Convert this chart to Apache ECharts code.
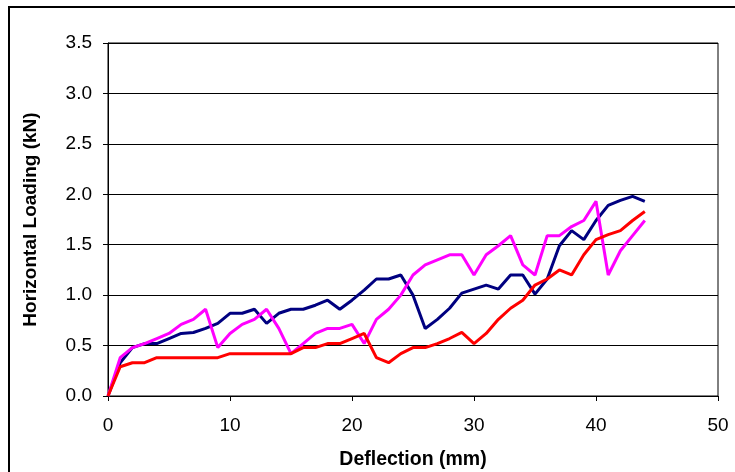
<!DOCTYPE html>
<html>
<head>
<meta charset="utf-8">
<script src="https://cdn.jsdelivr.net/npm/echarts@6/dist/echarts.min.js"></script>
<style>
  html, body { margin: 0; padding: 0; background: #fff; }
  #chart { width: 735px; height: 472px; }
</style>
</head>
<body>
<div id="chart"></div>
<script>
// Deflection readings (mm), one per loading step
const deflection = [0,1,2,3,4,5,6,7,8,9,10,11,12,13,14,15,16,17,18,19,20,21,22,23,24,25,26,27,28,29,30,31,32,33,34,35,36,37,38,39,40,41,42,43,44];

// Horizontal loading (kN) for each test specimen
const loadNavy = [0,0.33,0.48,0.52,0.52,0.57,0.62,0.63,0.67,0.72,0.82,0.82,0.86,0.72,0.82,0.86,0.86,0.90,0.95,0.86,0.95,1.05,1.16,1.16,1.20,1.00,0.67,0.76,0.87,1.02,1.06,1.10,1.06,1.20,1.20,1.01,1.16,1.49,1.64,1.55,1.74,1.89,1.94,1.98,1.93];
const loadMagenta = [0,0.38,0.48,0.52,0.57,0.62,0.71,0.76,0.86,0.48,0.62,0.71,0.76,0.86,0.67,0.42,0.52,0.62,0.67,0.67,0.71,0.52,0.76,0.86,1.00,1.20,1.30,1.35,1.40,1.40,1.20,1.40,1.49,1.59,1.30,1.20,1.59,1.59,1.68,1.74,1.93,1.20,1.44,1.59,1.74];
const loadRed = [0,0.29,0.33,0.33,0.38,0.38,0.38,0.38,0.38,0.38,0.42,0.42,0.42,0.42,0.42,0.42,0.48,0.48,0.52,0.52,0.57,0.62,0.38,0.33,0.42,0.48,0.48,0.52,0.57,0.63,0.52,0.62,0.76,0.87,0.95,1.10,1.16,1.25,1.20,1.40,1.55,1.60,1.64,1.74,1.83];

const pairs = ys => deflection.map((x, i) => [x, ys[i]]);
const FONT = 'Arial, "Liberation Sans", sans-serif';

const chart = echarts.init(document.getElementById('chart'), null, { renderer: 'canvas' });

const lineSeries = (data, color) => ({
  type: 'line',
  data: pairs(data),
  showSymbol: false,
  symbol: 'none',
  lineStyle: { color: color, width: 3 },
  animation: false
});

chart.setOption({
  backgroundColor: '#fff',
  animation: false,
  // frame around the whole chart area
  graphic: [{
    type: 'rect',
    shape: { x: 9, y: 7, width: 760, height: 500 },
    style: { fill: null, stroke: '#000', lineWidth: 2 },
    silent: true,
    z: -10
  }],
  grid: {
    left: 108, top: 43, right: 17, bottom: 76,
    containLabel: false, outerBoundsMode: 'none',
    show: true, borderColor: '#000', borderWidth: 1, backgroundColor: 'transparent'
  },
  xAxis: {
    type: 'value', min: 0, max: 50, interval: 10,
    name: 'Deflection (mm)', nameLocation: 'middle', nameGap: 54,
    nameTextStyle: { fontFamily: FONT, fontWeight: 'bold', fontSize: 19.5, color: '#000' },
    axisLine: { show: true, lineStyle: { color: '#000', width: 1 } },
    axisTick: { show: true, length: 5, lineStyle: { color: '#000' } },
    axisLabel: { fontFamily: FONT, fontSize: 19, color: '#000', margin: 20 },
    splitLine: { show: false }
  },
  yAxis: {
    type: 'value', min: 0, max: 3.5, interval: 0.5,
    name: 'Horizontal Loading (kN)', nameLocation: 'middle', nameGap: 68, nameRotate: 90,
    nameTextStyle: { fontFamily: FONT, fontWeight: 'bold', fontSize: 19, color: '#000' },
    axisLine: { show: true, lineStyle: { color: '#000', width: 1 } },
    axisTick: { show: true, length: 5, lineStyle: { color: '#000' } },
    axisLabel: { fontFamily: FONT, fontSize: 19, color: '#000', margin: 16,
                 formatter: v => v.toFixed(1) },
    splitLine: { show: true, lineStyle: { color: '#000', width: 1 } }
  },
  series: [
    lineSeries(loadNavy, '#000080'),
    lineSeries(loadMagenta, '#FF00FF'),
    lineSeries(loadRed, '#FF0000')
  ]
});
</script>
</body>
</html>
